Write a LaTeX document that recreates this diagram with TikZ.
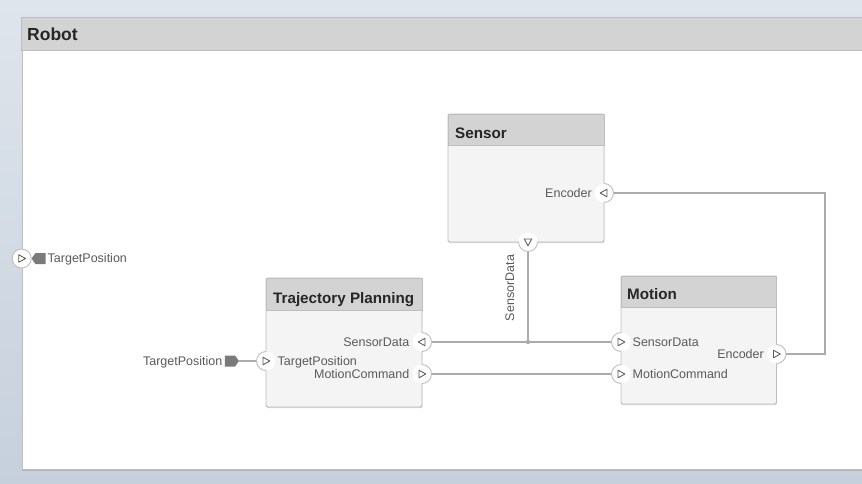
\documentclass[tikz,border=0pt]{standalone}
\usepackage{fontspec}
\setmainfont{Liberation Sans}
\usetikzlibrary{calc,shapes.symbols,shadows}
\definecolor{bgtop}{HTML}{DFE5EC}
\definecolor{bgbot}{HTML}{C6D0DC}
\definecolor{hdr}{HTML}{D3D3D3}
\definecolor{hdrline}{HTML}{BDBDBD}
\definecolor{boxfill}{HTML}{F4F4F4}
\definecolor{boxline}{HTML}{BEBEBE}
\definecolor{wire}{HTML}{ABABAB}
\definecolor{lbl}{HTML}{5A5A5A}
\definecolor{ttl}{HTML}{262626}
\definecolor{inport}{HTML}{7A7A7A}
\tikzset{
  blockbox/.style={rectangle, rounded corners=2pt, fill=boxfill, draw=boxline, line width=0.9pt, inner sep=0pt,
    drop shadow={shadow xshift=0.4pt, shadow yshift=-1.2pt, opacity=0.25, fill=black!60}},
  hdrbox/.style={fill=hdr, draw=hdrline, line width=0.8pt},
  portc/.style={circle, minimum size=19pt, inner sep=0pt, fill=white},
  portring/.style={draw=boxline, line width=0.9pt},
  portmark/.style={draw=lbl, line width=0.85pt, line join=round},
  wire/.style={draw=wire, line width=1.2pt},
  plabel/.style={text=lbl, inner sep=0pt, font=\fontsize{12.5}{15}\selectfont, text height=8.6pt, text depth=0.4pt},
  btitle/.style={text=ttl, inner sep=0pt, font=\fontsize{15.2}{18}\selectfont\bfseries, text height=10.9pt, text depth=0pt},
  sigbox/.style={signal, fill=inport, inner sep=0pt, minimum width=14pt, minimum height=11pt, signal pointer angle=110},
}
\newcommand{\mkport}[5]{%
  \node[portc] (#1) at (#2) {};
  \draw[portring] (#1.center) ++(#3:9.5pt) arc[start angle=#3, delta angle=#4, radius=9.5pt];
  \draw[portmark, shift={(#1.center)}, rotate=#5] (-3,-3.8) -- (3.8,0) -- (-3,3.8) -- cycle;
}
\begin{document}
\begin{tikzpicture}[x=1pt,y=-1pt]
\useasboundingbox (0,0) rectangle (862,483);
\shade[top color=bgtop, bottom color=bgbot] (0,0) rectangle (862,483);

% Robot frame
\node[rectangle, fill=white, draw=boxline, line width=0.9pt, inner sep=0pt, anchor=north west,
  minimum width=860pt, minimum height=452pt,
  drop shadow={shadow xshift=0pt, shadow yshift=-1.2pt, opacity=0.25, fill=black!60}] (robot) at (21.5,17) {};
\path[hdrbox] (robot.north west) rectangle ([shift={(0,33)}]robot.north east);
\node[text=ttl, inner sep=0pt, font=\fontsize{17.5}{20}\selectfont\bfseries, text height=12.6pt, text depth=0pt, anchor=west] (robottitle) at (27,34) {Robot};

% Blocks
\node[blockbox, minimum width=156pt, minimum height=128pt] (sensor) at (526,178) {};
\path[hdrbox] ([shift={(0.5,0.5)}]sensor.north west) rectangle ([shift={(-0.5,32)}]sensor.north east);
\node[btitle, anchor=west] (sensortitle) at (455,133) {Sensor};

\node[blockbox, minimum width=156pt, minimum height=129pt] (traj) at (344,342.5) {};
\path[hdrbox] ([shift={(0.5,0.5)}]traj.north west) rectangle ([shift={(-0.5,33)}]traj.north east);
\node[btitle, anchor=west] (trajtitle) at (273,298) {Trajectory Planning};

\node[blockbox, minimum width=155.5pt, minimum height=128pt] (motion) at (698.75,340) {};
\path[hdrbox] ([shift={(0.5,0.5)}]motion.north west) rectangle ([shift={(-0.5,32)}]motion.north east);
\node[btitle, anchor=west] (motiontitle) at (627,294) {Motion};

% Ports
\mkport{sEnc}{604,193}{-90}{180}{180}
\mkport{sSD}{528,242}{180}{180}{-90}
\mkport{tTP}{266,361}{90}{180}{0}
\mkport{tSD}{422,342}{-90}{180}{180}
\mkport{tMC}{422,374}{-90}{180}{0}
\mkport{mSD}{621,342}{90}{180}{0}
\mkport{mMC}{621,374}{90}{180}{0}
\mkport{mEnc}{776.5,354}{-90}{180}{0}
\mkport{rTP}{21.7,258.5}{0}{360}{0}

% Port labels
\node[plabel, anchor=east] (lsEnc) at (592,193) {Encoder};
\node[plabel, anchor=east] (ltSD) at (409.5,342) {SensorData};
\node[plabel, anchor=east] (ltMC) at (409.5,374) {MotionCommand};
\node[plabel, anchor=west] (ltTP) at (277.5,361) {TargetPosition};
\node[plabel, anchor=west] (lmSD) at (632.5,342) {SensorData};
\node[plabel, anchor=west] (lmMC) at (632.5,374) {MotionCommand};
\node[plabel, anchor=east] (lmEnc) at (764,354) {Encoder};
\node[plabel, rotate=90] (lsSD) at (510,288) {SensorData};

% External inports
\node[sigbox, signal to=east] (extTP) at (230,361) {};
\node[plabel, anchor=east] (lextTP) at (222.5,361) {TargetPosition};
\node[sigbox, signal to=west] (robTP) at (40.5,258.5) {};
\node[plabel, anchor=west] (lrobTP) at (47.5,258.5) {TargetPosition};

% Wires
\coordinate (junc) at (528,342);
\coordinate (encR) at (825,0);
\draw[wire] (extTP) -- (tTP);
\draw[wire] (tSD) -- (junc) -- (mSD);
\draw[wire] (sSD) -- (junc);
\fill[fill=wire] (junc) circle[radius=2.2pt];
\draw[wire] (tMC) -- (mMC);
\draw[wire] (sEnc) -- (sEnc -| encR) -- (mEnc -| encR) -- (mEnc);
\end{tikzpicture}
\end{document}
